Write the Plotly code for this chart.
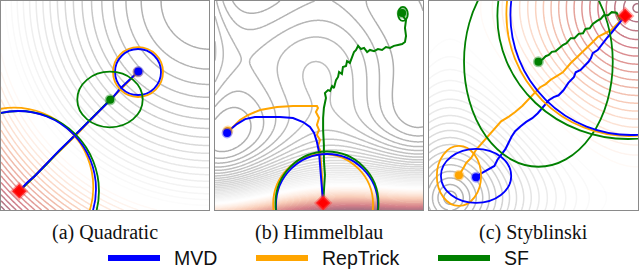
import numpy as np
import plotly.graph_objects as go

# ---------------- panel domains (function coordinates) ----------------
QUAD_X = [-2.0, 2.0]
QUAD_Y = [-2.0, 2.0]
HIM_X = [-4.25, 3.83]
HIM_Y = [-6.68, 2.54]
STY_X = [-3.25, 0.17]
STY_Y = [-3.10, 0.27]

QUAD_LEVEL_STEP = 0.85
HIM_LEVEL_STEP = 35.0
STY_LEVEL_STEP = 0.45

CAPTIONS = ["(a) Quadratic", "(b) Himmelblau", "(c) Styblinski"]
METHODS = ["MVD", "RepTrick", "SF"]
METHOD_COLORS = {"MVD": "blue", "RepTrick": "orange", "SF": "green"}

# ---------------- (a) Quadratic trajectories ----------------
QA_MVD_X = [-1.65, -1.50, -1.35, -1.19, -1.02, -0.87, -0.69, -0.54, -0.37, -0.19, -0.04, 0.14, 0.29, 0.46, 0.64]
QA_MVD_Y = [-1.64, -1.48, -1.35, -1.18, -1.02, -0.85, -0.68, -0.53, -0.35, -0.18, -0.03, 0.14, 0.32, 0.49, 0.65]
QA_REP_X = [-1.65, -1.49, -1.33, -1.18, -1.01, -0.85, -0.69, -0.52, -0.36, -0.19, -0.03, 0.13, 0.30, 0.47, 0.63]
QA_REP_Y = [-1.64, -1.49, -1.33, -1.17, -1.01, -0.86, -0.69, -0.53, -0.36, -0.19, -0.03, 0.14, 0.31, 0.48, 0.64]
QA_SF_X = [-1.65, -1.47, -1.30, -1.12, -0.95, -0.78, -0.60, -0.43, -0.26, -0.08, 0.10]
QA_SF_Y = [-1.64, -1.47, -1.29, -1.12, -0.94, -0.77, -0.59, -0.42, -0.24, -0.07, 0.11]

QA_ELL_METHOD = ["RepTrick", "SF", "MVD", "RepTrick", "MVD", "SF"]
QA_ELL_CX = [-1.75, -1.654, -1.673, 0.635, 0.635, 0.096]
QA_ELL_CY = [-1.56, -1.636, -1.598, 0.641, 0.641, 0.115]
QA_ELL_RX = [1.525, 1.538, 1.50, 0.481, 0.442, 0.629]
QA_ELL_RY = [1.518, 1.531, 1.493, 0.478, 0.440, 0.532]

# ---------------- (b) Himmelblau trajectories ----------------
HB_MVD_X = [-0.05, -0.09, -0.13, -0.17, -0.21, -0.29, -0.40, -0.56, -0.83, -1.22, -1.73, -2.23, -2.70, -3.08, -3.40, -3.63, -3.78]
HB_MVD_Y = [-6.37, -5.80, -5.27, -4.69, -4.12, -3.68, -3.28, -3.02, -2.80, -2.62, -2.58, -2.58, -2.58, -2.67, -2.89, -3.11, -3.28]
HB_REP_X = [-0.05, -0.09, -0.09, -0.13, -0.17, -0.25, -0.17, -0.29, -0.21, -0.29, -0.21, -0.33, -0.25, -0.29,
            -0.75, -1.22, -1.84, -2.50, -2.97, -3.28, -3.55, -3.75]
HB_REP_Y = [-6.37, -5.80, -5.27, -4.69, -4.03, -3.86, -3.59, -3.37, -3.15, -2.93, -2.62, -2.36, -2.18, -2.09,
            -2.09, -2.09, -2.14, -2.27, -2.49, -2.71, -3.02, -3.19]
HB_SF_X = [-0.05, -0.02, 0.02, -0.02, -0.02, -0.05, -0.05, -0.02, 0.06, 0.02, 0.14, 0.22, 0.30, 0.37, 0.45, 0.53,
           0.57, 0.68, 0.72, 0.84, 0.88, 0.99, 1.07, 1.15, 1.23, 1.31, 1.42, 1.54, 1.66, 1.77, 1.93, 2.08, 2.24,
           2.39, 2.55, 2.70, 2.86, 3.02, 3.13, 3.17, 3.13, 3.17, 3.05, 3.02]
HB_SF_Y = [-6.37, -5.80, -5.14, -4.47, -3.81, -3.15, -2.62, -2.18, -1.74, -1.52, -1.39, -1.43, -1.21, -1.30, -0.95,
           -0.81, -0.59, -0.68, -0.37, -0.33, -0.11, -0.19, 0.03, 0.29, 0.38, 0.56, 0.42, 0.47, 0.29, 0.38, 0.33,
           0.42, 0.38, 0.51, 0.47, 0.56, 0.60, 0.64, 0.73, 1.00, 1.35, 1.70, 1.88, 2.01]

HB_ELL_METHOD = ["RepTrick", "MVD", "SF", "SF"]
HB_ELL_CX = [-0.05, 0.10, 0.10, 3.05]
HB_ELL_CY = [-6.42, -6.46, -6.37, 1.97]
HB_ELL_RX = [1.94, 1.98, 2.00, 0.19]
HB_ELL_RY = [2.21, 2.25, 2.27, 0.31]

# ---------------- (c) Styblinski trajectories ----------------
ST_MVD_X = [-0.04, -0.14, -0.27, -0.34, -0.41, -0.49, -0.57, -0.60, -0.64, -0.72, -0.77, -0.85, -0.88, -0.97, -1.05,
            -1.13, -1.21, -1.29, -1.38, -1.47, -1.56, -1.66, -1.75, -1.84, -1.90, -1.95, -2.00, -2.07, -2.13, -2.18,
            -2.28, -2.38, -2.48]
ST_MVD_Y = [0.03, -0.10, -0.25, -0.33, -0.41, -0.52, -0.57, -0.65, -0.71, -0.79, -0.84, -0.88, -0.96, -1.05, -1.17,
            -1.25, -1.28, -1.33, -1.44, -1.54, -1.62, -1.68, -1.75, -1.83, -1.92, -2.02, -2.12, -2.21, -2.29, -2.39,
            -2.44, -2.50, -2.57]
ST_REP_X = [-0.04, -0.14, -0.27, -0.37, -0.49, -0.57, -0.65, -0.73, -0.82, -0.93, -1.00, -1.06, -1.16, -1.26, -1.34,
            -1.43, -1.51, -1.62, -1.72, -1.84, -1.95, -2.07, -2.15, -2.26, -2.38, -2.48, -2.56, -2.64, -2.68, -2.76]
ST_REP_Y = [0.03, -0.07, -0.20, -0.25, -0.31, -0.39, -0.47, -0.55, -0.63, -0.73, -0.81, -0.88, -0.94, -1.00, -1.07,
            -1.12, -1.20, -1.31, -1.42, -1.52, -1.60, -1.67, -1.76, -1.89, -2.02, -2.13, -2.26, -2.34, -2.41, -2.54]
ST_SF_X = [-0.04, -0.13, -0.18, -0.26, -0.32, -0.39, -0.44, -0.50, -0.57, -0.62, -0.69, -0.73, -0.80, -0.87, -0.93,
           -1.00, -1.06, -1.13, -1.18, -1.24, -1.29, -1.34, -1.39, -1.46]
ST_SF_Y = [0.03, -0.02, 0.08, 0.09, 0.04, 0.04, -0.02, -0.05, -0.10, -0.17, -0.18, -0.25, -0.26, -0.33, -0.33,
           -0.41, -0.44, -0.49, -0.54, -0.55, -0.60, -0.62, -0.67, -0.71]

ST_ELL_METHOD = ["SF", "SF", "RepTrick", "MVD", "RepTrick", "MVD"]
ST_ELL_CX = [-1.46, 0.006, 0.022, 0.055, -2.76, -2.48]
ST_ELL_CY = [-0.71, 0.028, 0.060, 0.044, -2.55, -2.55]
ST_ELL_RX = [1.217, 2.137, 2.006, 1.973, 0.362, 0.575]
ST_ELL_RY = [1.693, 1.983, 1.967, 1.935, 0.484, 0.435]


# ---------------- objective functions ----------------
def quadratic(X, Y):
    return (X - 2.0) ** 2 + (Y - 2.0) ** 2


def himmelblau(X, Y):
    return (X ** 2 + Y - 11) ** 2 + (X + Y ** 2 - 7) ** 2


def styblinski(X, Y):
    return 0.5 * ((X ** 4 - 16 * X ** 2 + 5 * X) + (Y ** 4 - 16 * Y ** 2 + 5 * Y))


# RdGy_r blended with white (gray side lighter, red side stronger)
ALPHA_GRAY = 0.35
ALPHA_RED = 0.55
RDGY_R = ["#1a1a1a", "#4d4d4d", "#878787", "#bababa", "#e0e0e0", "#ffffff",
          "#fddbc7", "#f4a582", "#d6604d", "#b2182b", "#67001f"]


def blend(h, a):
    r, g, b = int(h[1:3], 16), int(h[3:5], 16), int(h[5:7], 16)
    f = lambda c: int(round(a * c + (1 - a) * 255))
    return "rgb(%d,%d,%d)" % (f(r), f(g), f(b))


CSCALE = [[i / 10.0, blend(c, ALPHA_GRAY if i <= 5 else ALPHA_RED)] for i, c in enumerate(RDGY_R)]

W, H = 640, 273
PANEL_PX = [(1, 209), (215, 423), (429, 638)]
TOP_PX, BOT_PX = 1, 210

fig = go.Figure()

panels = [
    dict(fx=QUAD_X, fy=QUAD_Y, func=quadratic, kind="lin", step=QUAD_LEVEL_STEP, n=220,
         traj={"MVD": (QA_MVD_X, QA_MVD_Y), "RepTrick": (QA_REP_X, QA_REP_Y), "SF": (QA_SF_X, QA_SF_Y)},
         ell=(QA_ELL_METHOD, QA_ELL_CX, QA_ELL_CY, QA_ELL_RX, QA_ELL_RY)),
    dict(fx=HIM_X, fy=HIM_Y, func=himmelblau, kind="lin", step=HIM_LEVEL_STEP, n=300,
         traj={"MVD": (HB_MVD_X, HB_MVD_Y), "RepTrick": (HB_REP_X, HB_REP_Y), "SF": (HB_SF_X, HB_SF_Y)},
         ell=(HB_ELL_METHOD, HB_ELL_CX, HB_ELL_CY, HB_ELL_RX, HB_ELL_RY)),
    dict(fx=STY_X, fy=STY_Y, func=styblinski, kind="two", step=STY_LEVEL_STEP, n=220,
         traj={"MVD": (ST_MVD_X, ST_MVD_Y), "RepTrick": (ST_REP_X, ST_REP_Y), "SF": (ST_SF_X, ST_SF_Y)},
         ell=(ST_ELL_METHOD, ST_ELL_CX, ST_ELL_CY, ST_ELL_RX, ST_ELL_RY)),
]

shapes = []
annotations = []
for i, p in enumerate(panels):
    ax = "" if i == 0 else str(i + 1)
    xs = np.linspace(p["fx"][0], p["fx"][1], p["n"])
    ys = np.linspace(p["fy"][0], p["fy"][1], p["n"])
    X, Y = np.meshgrid(xs, ys)
    F = p["func"](X, Y)
    if p["kind"] == "lin":
        Z = F - F.min()
    else:
        fmin, fmax = F.min(), F.max()
        Z = np.sqrt(F - fmin) - np.sqrt(fmax - F)
    zmin, zmax = float(Z.min()), float(Z.max())
    start = zmin + p["step"]
    fig.add_trace(go.Contour(
        x=xs, y=ys, z=Z, xaxis="x" + ax, yaxis="y" + ax,
        autocontour=False,
        contours=dict(coloring="lines", start=start, end=zmax, size=p["step"]),
        line=dict(width=1.5, smoothing=0),
        colorscale=CSCALE, zauto=False, zmin=zmin, zmax=zmax,
        showscale=False, hoverinfo="skip"))

    for m in ["RepTrick", "SF", "MVD"]:
        tx, ty = p["traj"][m]
        fig.add_trace(go.Scatter(x=tx, y=ty, mode="lines", xaxis="x" + ax, yaxis="y" + ax,
                                 line=dict(color=METHOD_COLORS[m], width=2), hoverinfo="skip"))
    for m in ["RepTrick", "SF", "MVD"]:
        tx, ty = p["traj"][m]
        col = {"MVD": "rgba(0,0,255,0.35)", "RepTrick": "rgba(255,165,0,0.4)", "SF": "rgba(0,128,0,0.4)"}[m]
        fig.add_trace(go.Scatter(x=[tx[-1]], y=[ty[-1]], mode="markers", xaxis="x" + ax, yaxis="y" + ax,
                                 marker=dict(symbol="circle", size=8, color=METHOD_COLORS[m],
                                             line=dict(color=col, width=3)), hoverinfo="skip"))
    tx, ty = p["traj"]["MVD"]
    fig.add_trace(go.Scatter(x=[tx[0]], y=[ty[0]], mode="markers", xaxis="x" + ax, yaxis="y" + ax,
                             marker=dict(symbol="diamond", size=11, color="red",
                                         line=dict(color="rgba(255,60,60,0.45)", width=3)), hoverinfo="skip"))

    em, ecx, ecy, erx, ery = p["ell"]
    for m, cx, cy, rx, ry in zip(em, ecx, ecy, erx, ery):
        shapes.append(dict(type="circle", xref="x" + ax, yref="y" + ax, layer="above",
                           x0=cx - rx, x1=cx + rx, y0=cy - ry, y1=cy + ry,
                           line=dict(color=METHOD_COLORS[m], width=1.8)))

    l, r = PANEL_PX[i]
    dom_x = [l / W, r / W]
    dom_y = [1 - BOT_PX / H, 1 - TOP_PX / H]
    axstyle = dict(showgrid=False, zeroline=False, showticklabels=False, ticks="",
                   showline=True, mirror=True, linecolor="#8a8a8a", linewidth=1.2)
    fig.update_layout(**{
        "xaxis" + ax: dict(domain=dom_x, range=p["fx"], anchor="y" + ax, **axstyle),
        "yaxis" + ax: dict(domain=dom_y, range=p["fy"], anchor="x" + ax, **axstyle),
    })
    annotations.append(dict(x=(l + r) / 2 / W, y=1 - 232 / H, xref="paper", yref="paper",
                            text=CAPTIONS[i], showarrow=False, xanchor="center", yanchor="middle",
                            font=dict(family="Liberation Serif", size=20, color="#111111")))

# legend (drawn manually, matplotlib style)
LEG_LINE_X = [(108, 160), (256, 308), (438, 490)]
LEG_Y = 258
for (x0, x1), m in zip(LEG_LINE_X, METHODS):
    shapes.append(dict(type="line", xref="paper", yref="paper", x0=x0 / W, x1=x1 / W,
                       y0=1 - LEG_Y / H, y1=1 - LEG_Y / H,
                       line=dict(color=METHOD_COLORS[m], width=6)))
    annotations.append(dict(x=(x1 + 12) / W, y=1 - LEG_Y / H, xref="paper", yref="paper", text=m,
                            showarrow=False, xanchor="left", yanchor="middle",
                            font=dict(family="Liberation Sans", size=19.5, color="#111111")))

fig.update_layout(width=W, height=H, margin=dict(l=0, r=0, t=0, b=0),
                  paper_bgcolor="white", plot_bgcolor="white", showlegend=False,
                  shapes=shapes, annotations=annotations)

fig.write_html("out.html", config={"displayModeBar": False},
               post_script="document.body.style.margin='0px';document.body.style.padding='0px';")
